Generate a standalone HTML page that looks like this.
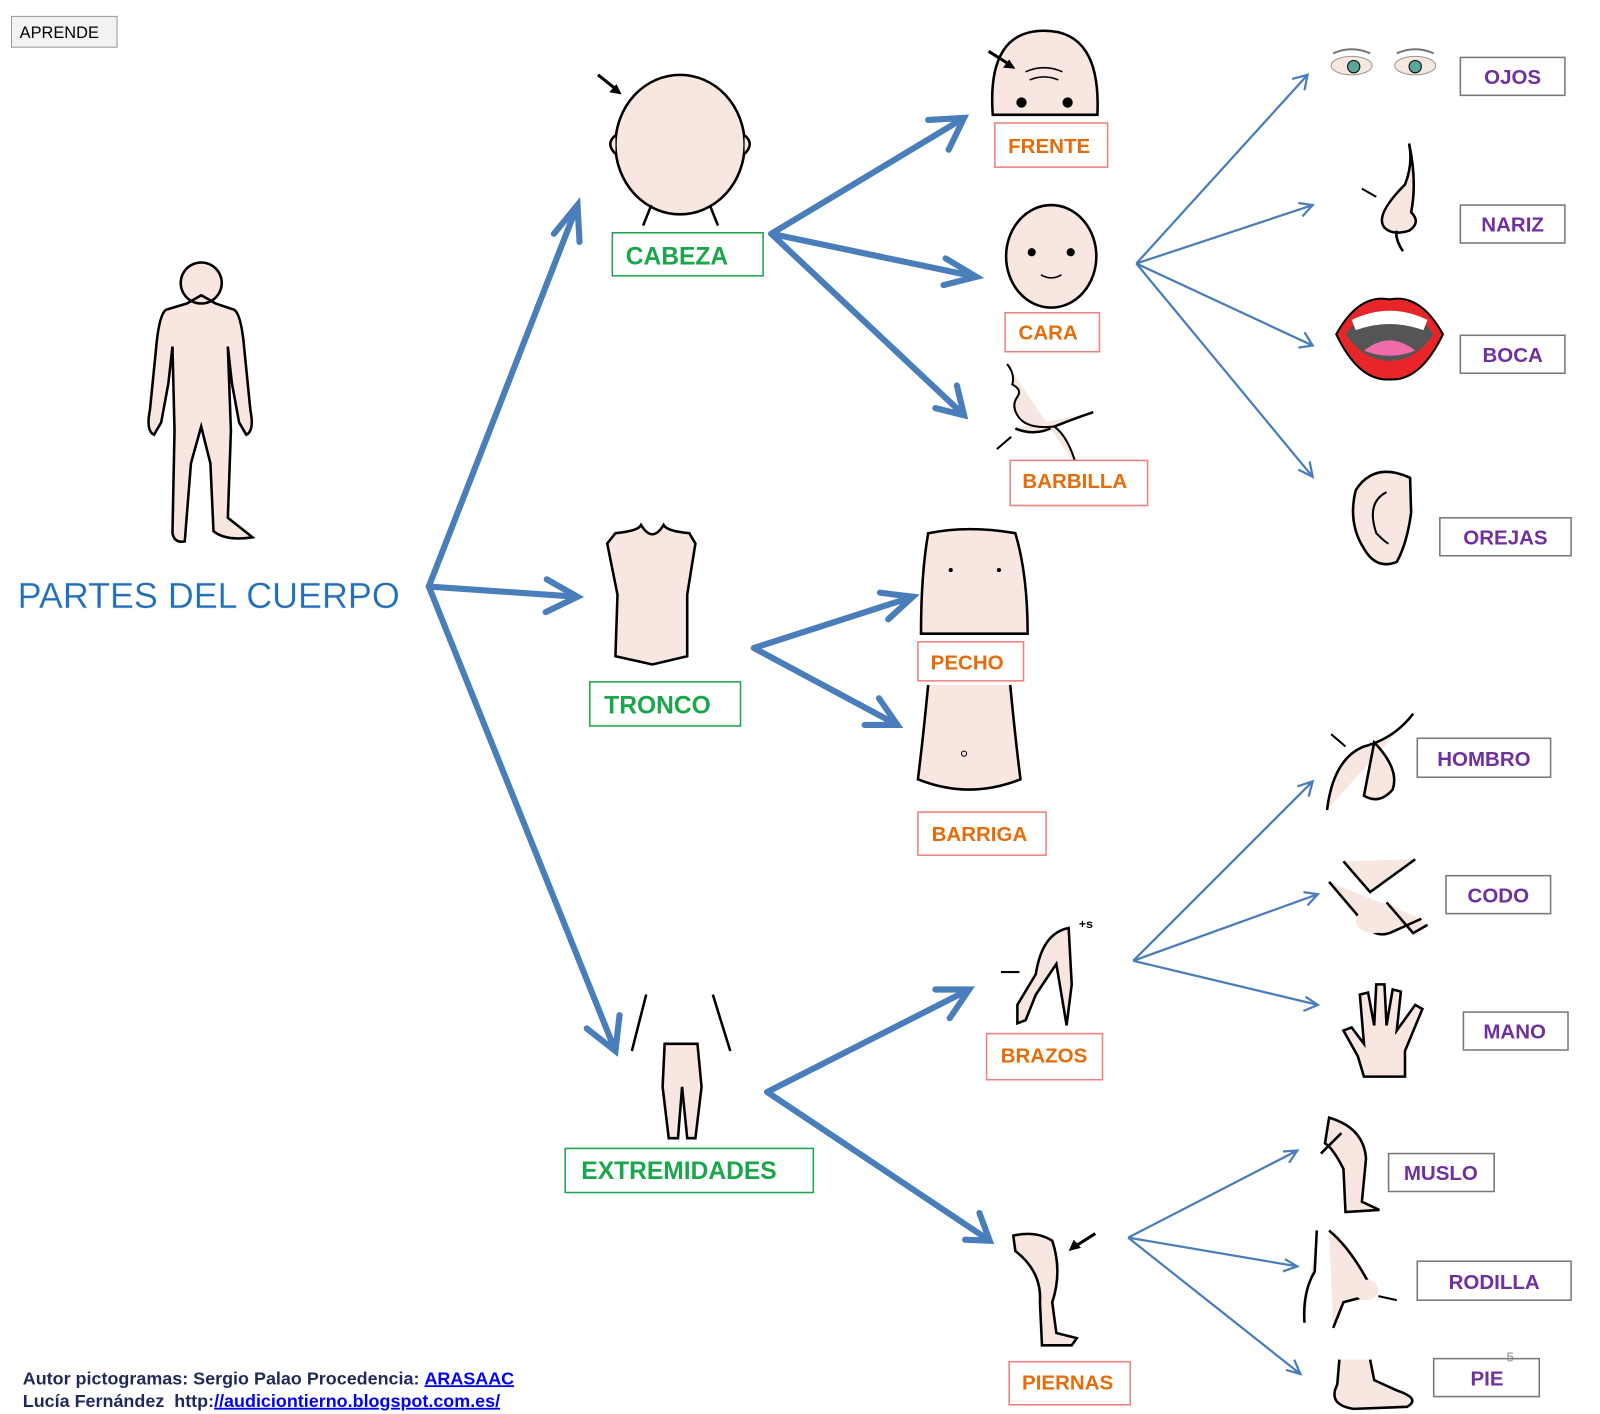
<!DOCTYPE html>
<html><head><meta charset="utf-8"><style>
html,body{margin:0;padding:0;background:#fff;}
svg{display:block;}
.g{font-family:"Liberation Sans",sans-serif;font-weight:bold;font-size:24px;fill:#1aa64a;}
.o{font-family:"Liberation Sans",sans-serif;font-weight:bold;font-size:20px;fill:#e46c0a;}
.p{font-family:"Liberation Sans",sans-serif;font-weight:bold;font-size:20px;fill:#7030a0;}
.sk{fill:#f8e6e0;stroke:#000;stroke-width:2.5;}
</style></head><body>
<svg width="1600" height="1414" viewBox="0 0 1560 1379" xmlns="http://www.w3.org/2000/svg">
<rect x="11" y="16" width="103" height="30" fill="#f2f2f2" stroke="#999"/>
<text x="19" y="37" font-family="Liberation Sans,sans-serif" font-size="16" fill="#000">APRENDE</text>

<path class="sk" stroke-width="4" d="M196,256 a20,20 0 1,0 0.1,0 Z M182,296 L162,302 Q155,306 152,340 L146,400 Q142,420 150,424 L157,412 L164,374 L168,338 L170,420 L168,520 Q170,530 180,528 L186,452 L196,416 L205,452 L208,518 Q220,528 246,524 L222,505 L225,420 L222,338 L226,374 L233,412 L240,424 Q248,420 244,400 L238,340 Q235,306 228,302 L210,296 Q200,290 196,288 Z"/>
<text x="17" y="593" font-family="Liberation Sans,sans-serif" font-size="35" fill="#1f6fbf" stroke="#ddd" stroke-width="0.4">PARTES DEL CUERPO</text>

<g stroke="#4a7ebb" stroke-width="6" fill="none" stroke-linecap="round" stroke-linejoin="miter">
<path d="M418,572 L563,200 M540,228 L563,200 L565,236"/>
<path d="M418,572 L563,582 M533,565 L563,582 L532,597"/>
<path d="M418,572 L600,1025 M572,1003 L600,1025 L604,990"/>
<path d="M752,228 L940,115 M905,117 L940,115 L925,146"/>
<path d="M752,228 L952,270 M922,252 L952,270 L920,278"/>
<path d="M752,228 L940,405 M912,398 L940,405 L933,376"/>
<path d="M735,632 L890,582 M858,578 L890,582 L866,604"/>
<path d="M735,632 L875,707 M843,707 L875,707 L857,681"/>
<path d="M748,1065 L945,965 M912,965 L945,965 L926,993"/>
<path d="M748,1065 L965,1210 M941,1209 L965,1210 L955,1183"/>
</g>
<g stroke="#4a7ebb" stroke-width="2.2" fill="none">
<path d="M1108,257 L1275,73 M1260,77 L1275,73 L1272,88"/>
<path d="M1108,257 L1280,200 M1266,198 L1280,200 L1270,211"/>
<path d="M1108,257 L1280,337 M1266,339 L1280,337 L1272,324"/>
<path d="M1108,257 L1280,465 M1277,450 L1280,465 L1266,458"/>
<path d="M1105,937 L1280,762 M1265,767 L1280,762 L1276,777"/>
<path d="M1105,937 L1285,872 M1271,870 L1285,872 L1275,883"/>
<path d="M1105,937 L1285,980 M1273,972 L1285,980 L1271,986"/>
<path d="M1100,1207 L1265,1122 M1251,1123 L1265,1122 L1257,1134"/>
<path d="M1100,1207 L1265,1235 M1253,1228 L1265,1235 L1251,1240"/>
<path d="M1100,1207 L1268,1340 M1262,1326 L1268,1340 L1254,1336"/>
</g>

<ellipse class="sk" cx="663" cy="141" rx="63" ry="68"/>
<path class="sk" d="M600,132 q-10,8 0,18 M726,132 q10,8 0,18"/>
<path d="M635,200 l-8,20 M692,200 l8,20" stroke="#000" stroke-width="2.5" fill="none"/>
<path d="M583,73 l20,16" stroke="#000" stroke-width="3"/><path d="M606,92 l-12,-2 l7,-8z"/>
<path class="sk" d="M968,112 Q962,30 1018,30 Q1074,30 1070,112 Z"/>
<circle cx="996" cy="100" r="5"/><circle cx="1041" cy="100" r="5"/>
<path d="M1000,70 q18,-8 36,0 M1004,78 q14,-6 28,0" stroke="#000" fill="none" stroke-width="1.5"/>
<path d="M964,50 l22,14" stroke="#000" stroke-width="3"/><path d="M990,67 l-12,-1 l6,-8z"/>
<ellipse class="sk" cx="1025" cy="250" rx="44" ry="50"/>
<circle cx="1006" cy="246" r="4"/><circle cx="1044" cy="246" r="4"/>
<path d="M1015,268 q10,6 20,0" stroke="#000" fill="none" stroke-width="1.5"/>
<path d="M990,418 Q1010,426 1028,416 Q1048,408 1066,402" class="sk" fill="none"/>
<path d="M982,355 q8,10 5,20 q10,5 5,12 q-6,8 0,18 q8,14 36,11 q14,10 22,40" stroke="#000" stroke-width="2" fill="#f8e6e0"/>
<path d="M972,438 l14,-12" stroke="#000" stroke-width="2"/>
<path class="sk" stroke-width="3" d="M600,520 Q622,518 625,512 Q636,530 647,512 Q650,518 672,520 L678,530 L670,580 L670,640 L636,648 L600,640 L602,580 L592,530 Z"/>
<path class="sk" stroke-width="2" d="M905,520 Q945,512 990,520 Q1002,560 1002,618 L898,618 Q898,560 905,520Z"/>
<circle cx="927" cy="556" r="2"/><circle cx="974" cy="556" r="2"/>
<path class="sk" stroke-width="2" d="M905,668 Q900,720 895,760 Q945,780 995,760 Q990,720 985,668"/>
<circle cx="940" cy="735" r="2.5" fill="none" stroke="#000"/>
<path class="sk" d="M648,1018 L680,1018 L684,1060 L678,1110 L670,1110 L665,1060 L661,1110 L652,1110 L646,1060 Z"/>
<path class="sk" d="M630,970 L616,1025 M695,970 L712,1025" fill="none"/>
<path class="sk" stroke-width="2" d="M1042,905 Q1016,910 1010,950 L992,980 L992,998 L1000,995 L1010,970 L1030,940 L1040,1000 L1045,960 Z"/>
<text x="1052" y="905" font-family="Liberation Sans,sans-serif" font-weight="bold" font-size="12">+s</text>
<path d="M976,948 l18,0" stroke="#000" stroke-width="2"/>
<path class="sk" stroke-width="2" d="M988,1205 Q1010,1200 1026,1210 Q1036,1240 1026,1270 L1030,1300 L1050,1305 L1045,1312 L1016,1312 L1014,1270 Q1016,1240 990,1220 Z"/>
<path d="M1068,1203 l-22,14" stroke="#000" stroke-width="3"/><path d="M1042,1220 l5,-11 l7,8z"/>
<ellipse cx="1318" cy="64" rx="20" ry="9" fill="#f8e6e0" stroke="#999"/><circle cx="1320" cy="65" r="6" fill="#5aa79a" stroke="#000"/>
<ellipse cx="1380" cy="64" rx="20" ry="9" fill="#f8e6e0" stroke="#999"/><circle cx="1380" cy="65" r="6" fill="#5aa79a" stroke="#000"/>
<path d="M1300,52 q18,-8 36,0 M1362,52 q18,-8 36,0" stroke="#777" stroke-width="2" fill="none"/>
<path class="sk" stroke-width="2" d="M1374,140 q4,20 -4,40 q-30,30 -20,42 q8,8 24,3 q12,-8 2,-18 q6,-30 -2,-67 M1362,225 q-2,8 6,20" />
<path d="M1328,184 l14,8" stroke="#000" stroke-width="2"/>
<path d="M1303,326 Q1325,286 1355,292 Q1385,286 1407,326 Q1385,372 1355,370 Q1325,372 1303,326Z" fill="#e8262a" stroke="#000" stroke-width="2"/>
<path d="M1312,326 Q1330,300 1355,304 Q1380,300 1398,326 Q1380,352 1355,352 Q1330,352 1312,326Z" fill="#555"/>
<path d="M1318,312 Q1355,294 1392,312 L1388,322 Q1355,310 1322,322Z" fill="#fff"/>
<path d="M1330,342 Q1355,322 1380,342 Q1355,352 1330,342Z" fill="#f06ca8"/>
<path class="sk" stroke-width="2" d="M1375,466 Q1340,450 1322,478 Q1314,510 1330,535 Q1342,556 1362,548 Q1372,530 1376,500 Z"/>
<path d="M1352,480 q-20,10 -10,40 q10,10 12,10" stroke="#000" fill="none" stroke-width="2"/>
<path class="sk" stroke-width="2" d="M1294,790 Q1300,740 1330,728 Q1360,720 1378,696 M1340,724 Q1365,750 1358,770 Q1345,785 1330,776 Z"/>
<path d="M1298,716 l14,12" stroke="#000" stroke-width="2"/>
<path d="M1296,860 L1330,900 Q1340,915 1355,910 L1386,896 M1310,840 L1336,870 L1380,838 M1352,880 L1378,910 L1392,902" class="sk" stroke-width="2" fill="none"/>
<ellipse cx="1340" cy="898" rx="18" ry="12" fill="#f8e6e0"/>
<path class="sk" stroke-width="2" d="M1330,1050 L1324,1030 L1310,1005 L1318,1002 L1330,1018 L1326,970 L1334,968 L1340,1000 L1342,960 L1350,960 L1352,1000 L1358,965 L1366,967 L1362,1005 L1380,980 L1387,984 L1370,1025 L1370,1050 Z"/>
<path class="sk" stroke-width="2" d="M1296,1090 Q1330,1100 1332,1130 L1328,1172 L1345,1180 L1312,1182 L1310,1140 Q1300,1120 1292,1115 Z"/>
<path d="M1288,1125 l20,-20" stroke="#000" stroke-width="2.5"/>
<path class="sk" stroke-width="2" fill="none" d="M1284,1200 L1282,1240 Q1270,1260 1272,1290 M1296,1200 Q1320,1220 1340,1262 L1310,1270 L1300,1295"/>
<ellipse cx="1332" cy="1258" rx="12" ry="10" fill="#f8e6e0"/>
<path d="M1362,1268 l-18,-4" stroke="#000" stroke-width="2"/>
<path class="sk" stroke-width="2" d="M1306,1326 L1304,1350 Q1294,1370 1320,1374 L1372,1372 Q1386,1364 1362,1356 L1340,1346 L1336,1326"/>

<g fill="#fff" stroke-width="1.5">
<rect x="597" y="227" width="147" height="42" stroke="#1aa64a"/>
<rect x="575" y="665" width="147" height="43" stroke="#1aa64a"/>
<rect x="551" y="1120" width="242" height="43" stroke="#1aa64a"/>
<g stroke="#f08080">
<rect x="970" y="120" width="110" height="43"/><rect x="980" y="305" width="92" height="38"/>
<rect x="985" y="449" width="134" height="44"/><rect x="895" y="626" width="103" height="38"/>
<rect x="895" y="792" width="125" height="42"/><rect x="962" y="1008" width="113" height="45"/>
<rect x="984" y="1328" width="118" height="42"/></g>
<g stroke="#777">
<rect x="1424" y="56" width="102" height="37"/><rect x="1424" y="200" width="102" height="37"/>
<rect x="1424" y="327" width="102" height="37"/><rect x="1404" y="505" width="128" height="37"/>
<rect x="1382" y="720" width="130" height="38"/><rect x="1410" y="854" width="102" height="37"/>
<rect x="1427" y="987" width="102" height="37"/><rect x="1354" y="1125" width="103" height="37"/>
<rect x="1382" y="1230" width="150" height="38"/><rect x="1398" y="1325" width="103" height="37"/></g>
</g>
<g text-anchor="middle">
<text class="g" x="660" y="258">CABEZA</text><text class="g" x="641" y="696">TRONCO</text><text class="g" x="662" y="1150">EXTREMIDADES</text>
<text class="o" x="1023" y="149">FRENTE</text><text class="o" x="1022" y="331">CARA</text><text class="o" x="1048" y="476">BARBILLA</text>
<text class="o" x="943" y="653">PECHO</text><text class="o" x="955" y="820">BARRIGA</text><text class="o" x="1018" y="1036">BRAZOS</text><text class="o" x="1041" y="1355">PIERNAS</text>
<text class="p" x="1475" y="82">OJOS</text><text class="p" x="1475" y="226">NARIZ</text><text class="p" x="1475" y="353">BOCA</text><text class="p" x="1468" y="531">OREJAS</text>
<text class="p" x="1447" y="747">HOMBRO</text><text class="p" x="1461" y="880">CODO</text><text class="p" x="1477" y="1013">MANO</text>
<text class="p" x="1405" y="1151">MUSLO</text><text class="p" x="1457" y="1257">RODILLA</text><text class="p" x="1450" y="1351">PIE</text>
</g>
<text x="1469" y="1328" font-family="Liberation Sans,sans-serif" font-size="13" fill="#888">5</text>
<g font-family="Liberation Sans,sans-serif" font-weight="bold" font-size="17.5" fill="#1f2a5a">
<text x="22" y="1350">Autor pictogramas: Sergio Palao Procedencia: <tspan fill="#0000ee" text-decoration="underline">ARASAAC</tspan></text>
<text x="22" y="1372">Lucía Fernández&#160; http:<tspan fill="#0000ee" text-decoration="underline">//audiciontierno.blogspot.com.es/</tspan></text>
</g>
</svg>
</body></html>
